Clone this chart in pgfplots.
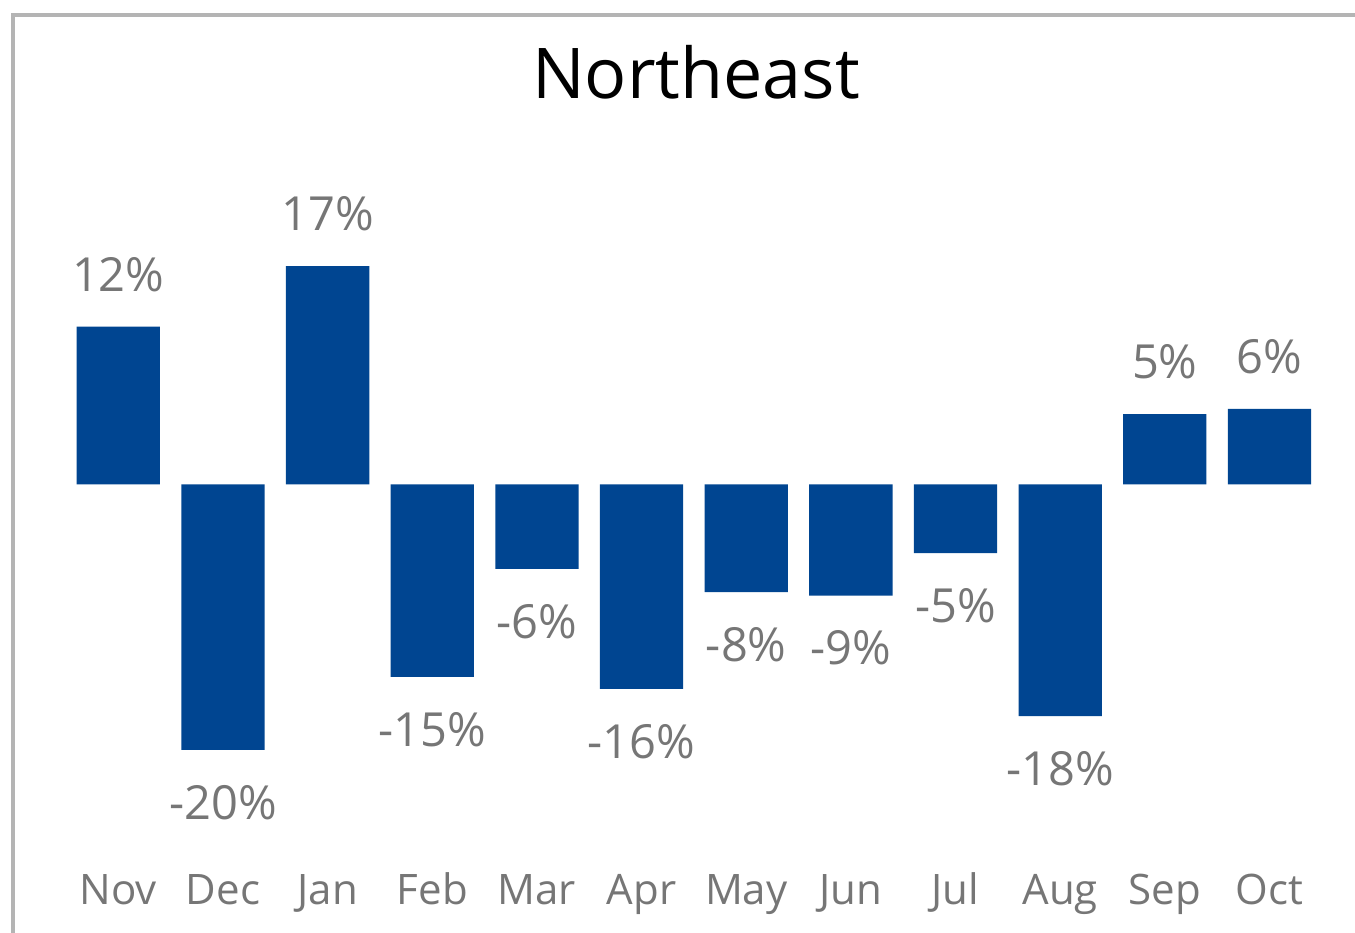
\documentclass[border=0pt]{standalone}
\usepackage{pgfplots}
\pgfplotsset{compat=1.18}
\usepackage{fontspec}
\setmainfont{Open Sans}
\definecolor{barblue}{RGB}{0,69,145}
\definecolor{lblgray}{RGB}{118,118,118}
\definecolor{bordergray}{RGB}{180,180,180}
\begin{document}
\begin{tikzpicture}
\path[use as bounding box] (0,0) rectangle (1355pt,932pt);
\draw[bordergray, line width=4pt] (13pt,-5pt) -- (13pt,917pt) -- (1360pt,917pt);
\node[anchor=base, inner sep=0pt, font=\fontsize{70}{84}\selectfont] at (696pt,833pt) {Northeast};
\begin{axis}[
  at={(66pt,56pt)}, anchor=south west,
  scale only axis, width=1255.8pt, height=717.75pt,
  xmin=-0.5, xmax=11.5, ymin=-30, ymax=25,
  axis line style={draw=none}, tick style={draw=none},
  ytick=\empty,
  xtick={0,1,2,3,4,5,6,7,8,9,10,11},
  xticklabels={Nov,Dec,Jan,Feb,Mar,Apr,May,Jun,Jul,Aug,Sep,Oct},
  xticklabel style={anchor=base, yshift=-24pt, text=lblgray, font=\fontsize{42}{50}\selectfont},
  clip=false,
  ybar, bar width=83.3pt,
  nodes near coords={\pgfplotspointmeta\%},
  point meta=explicit symbolic,
  visualization depends on={value \thisrow{y} \as \rawy},
  nodes near coords style={font=\fontsize{47}{56}\selectfont, text=lblgray, inner ysep=35pt, inner xsep=0pt},
  every node near coord/.append code={\ifdim\rawy pt<0pt \pgfkeysalso{anchor=north}\else\pgfkeysalso{anchor=south}\fi},
]
\addplot[fill=barblue, draw=none] table[x=x, y=y, meta=label] {
x y label
0 12.09 12
1 -20.34 -20
2 16.74 17
3 -14.75 -15
4 -6.47 -6
5 -15.67 -16
6 -8.24 -8
7 -8.52 -9
8 -5.25 -5
9 -17.74 -18
10 5.40 5
11 5.79 6
};
\end{axis}
\end{tikzpicture}
\end{document}
